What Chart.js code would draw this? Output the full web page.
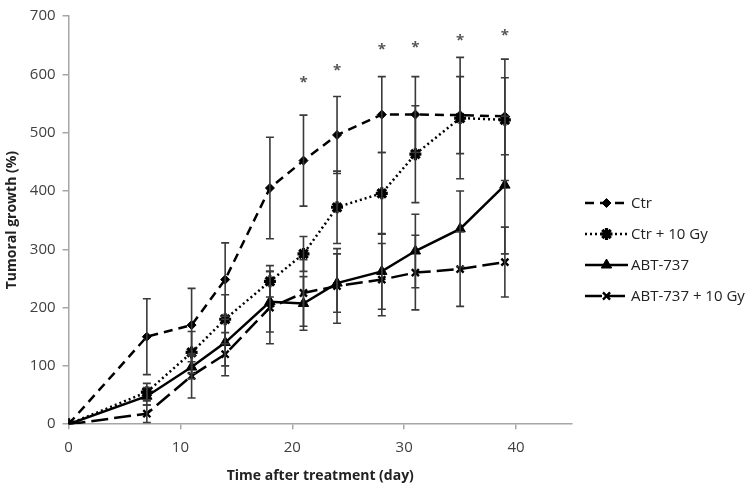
<!DOCTYPE html>
<html lang="en">
<head>
<meta charset="UTF-8">
<title>Tumoral growth</title>
<script src="https://cdn.jsdelivr.net/npm/chart.js"></script>
<style>
  html, body { margin: 0; padding: 0; background: #fff; }
  #wrap { width: 755px; height: 486px; position: relative; }
</style>
</head>
<body>
<div id="wrap"><canvas id="growthChart"></canvas></div>
<script>
// values (day, % growth, +/- error)
const days = [0, 7, 11, 14, 18, 21, 24, 28, 31, 35, 39];
const xTicks = [0, 10, 20, 30, 40];
const yTicks = [0, 100, 200, 300, 400, 500, 600, 700];

const ctr       = [0, 150, 170, 248, 405, 452, 496, 531, 531, 530, 528];
const ctrErr    = [0, 65, 63, 63, 87, 78, 66, 65, 65, 66, 66];
const ctr10     = [0, 55, 123, 180, 245, 292, 372, 396, 463, 525, 522];
const ctr10Err  = [0, 15, 36, 42, 27, 30, 62, 70, 83, 104, 104];
const abt       = [0, 48, 98, 140, 210, 207, 242, 262, 297, 335, 410];
const abtErr    = [0, 15, 20, 40, 52, 46, 50, 65, 63, 65, 118];
const abt10     = [0, 18, 83, 120, 200, 225, 237, 248, 260, 266, 278];
const abt10Err  = [0, 15, 38, 37, 62, 57, 64, 62, 64, 64, 60];

// significance marks
const sigDays = [21, 24, 28, 31, 35, 39];
const sigY    = [590, 611, 647, 651, 663, 672];

const labels = ['Ctr', 'Ctr + 10 Gy', 'ABT-737', 'ABT-737 + 10 Gy'];

const FONT = '"Open Sans", "DejaVu Sans", sans-serif';
const AXIS = '#a6a6a6';

function pts(arr) { return days.map((d, i) => ({ x: d, y: arr[i] })); }

const errorBars = {
  id: 'errorBars',
  afterDatasetsDraw(chart) {
    const ctx = chart.ctx, xs = chart.scales.x, ys = chart.scales.y;
    ctx.save();
    ctx.strokeStyle = '#3a3a3a';
    ctx.lineWidth = 1.6;
    chart.data.datasets.forEach(ds => {
      ds.data.forEach((p, i) => {
        const e = ds.errors[i];
        if (!e) return;
        const x = xs.getPixelForValue(p.x);
        const top = ys.getPixelForValue(p.y + e);
        const bot = ys.getPixelForValue(p.y - e);
        ctx.beginPath();
        ctx.moveTo(x, top); ctx.lineTo(x, bot);
        ctx.moveTo(x - 4, top); ctx.lineTo(x + 4, top);
        ctx.moveTo(x - 4, bot); ctx.lineTo(x + 4, bot);
        ctx.stroke();
      });
    });
    ctx.restore();
  }
};

const sigMarks = {
  id: 'sigMarks',
  afterDatasetsDraw(chart) {
    const ctx = chart.ctx, xs = chart.scales.x, ys = chart.scales.y;
    ctx.save();
    ctx.fillStyle = '#555';
    ctx.font = 'bold 15px ' + FONT;
    ctx.textAlign = 'center';
    ctx.textBaseline = 'middle';
    sigDays.forEach((d, i) => {
      ctx.fillText('*', xs.getPixelForValue(d), ys.getPixelForValue(sigY[i]) + 3);
    });
    ctx.restore();
  }
};

// legend at the right: line sample with marker, then text
const sideLegend = {
  id: 'sideLegend',
  afterDraw(chart) {
    const ctx = chart.ctx;
    const x0 = 585, len = 43, top = 203, gap = 31;
    chart.data.datasets.forEach((ds, i) => {
      const y = top + i * gap;
      ctx.save();
      ctx.strokeStyle = '#000';
      ctx.fillStyle = '#000';
      ctx.lineWidth = ds.borderWidth;
      ctx.setLineDash(ds.borderDash || []);
      ctx.beginPath();
      ctx.moveTo(x0, y); ctx.lineTo(x0 + len, y);
      ctx.stroke();
      ctx.setLineDash([]);
      ctx.lineWidth = ds.pointBorderWidth;
      if (Chart.helpers && Chart.helpers.drawPoint) {
        Chart.helpers.drawPoint(ctx, {
          pointStyle: ds.pointStyle, radius: ds.pointRadius,
          borderWidth: ds.pointBorderWidth, rotation: 0
        }, x0 + len / 2, y);
      }
      ctx.fillStyle = '#222';
      ctx.font = '15px ' + FONT;
      ctx.textBaseline = 'middle';
      ctx.fillText(ds.label, x0 + len + 3, y + 1);
      ctx.restore();
    });
  }
};

function series(label, data, errors, dash, style, radius, pbw) {
  return {
    label, data: pts(data), errors,
    borderColor: '#000', backgroundColor: '#000',
    borderWidth: 2.5, borderDash: dash, tension: 0, fill: false,
    pointStyle: style, pointRadius: radius, pointBorderWidth: pbw,
    pointBackgroundColor: '#000', pointBorderColor: '#000'
  };
}

new Chart(document.getElementById('growthChart'), {
  type: 'line',
  data: {
    datasets: [
      series(labels[0], ctr, ctrErr, [9, 6], 'rectRot', 4.5, 1),
      series(labels[1], ctr10, ctr10Err, [2, 3], 'star', 6, 3.2),
      series(labels[2], abt, abtErr, [], 'triangle', 6, 1),
      series(labels[3], abt10, abt10Err, [17, 6], 'crossRot', 5, 2.4)
    ]
  },
  options: {
    responsive: true,
    maintainAspectRatio: false,
    animation: false,
    layout: { padding: { left: 0, right: 183, top: 8, bottom: -2 } },
    plugins: { legend: { display: false }, tooltip: { enabled: false } },
    scales: {
      x: {
        type: 'linear', min: 0, max: 45,
        afterBuildTicks: s => { s.ticks = xTicks.map(v => ({ value: v })); },
        grid: { drawOnChartArea: false, color: AXIS, tickLength: 5, lineWidth: 1.5 },
        border: { color: AXIS, width: 1.5 },
        ticks: { color: '#404040', font: { family: FONT, size: 15 }, padding: 10, maxRotation: 0 },
        title: { display: true, text: 'Time after treatment (day)', color: '#222',
                 font: { family: FONT, size: 14, weight: 'bold' }, padding: { top: 0 } }
      },
      y: {
        min: 0, max: 700,
        afterBuildTicks: s => { s.ticks = yTicks.map(v => ({ value: v })); },
        grid: { drawOnChartArea: false, color: AXIS, tickLength: 6, lineWidth: 1.5 },
        border: { color: AXIS, width: 1.5 },
        ticks: { color: '#404040', font: { family: FONT, size: 15 }, padding: 7 },
        title: { display: true, text: 'Tumoral growth (%)', color: '#222',
                 font: { family: FONT, size: 14, weight: 'bold' }, padding: { bottom: 2 } }
      }
    }
  },
  plugins: [errorBars, sigMarks, sideLegend]
});
</script>
</body>
</html>
